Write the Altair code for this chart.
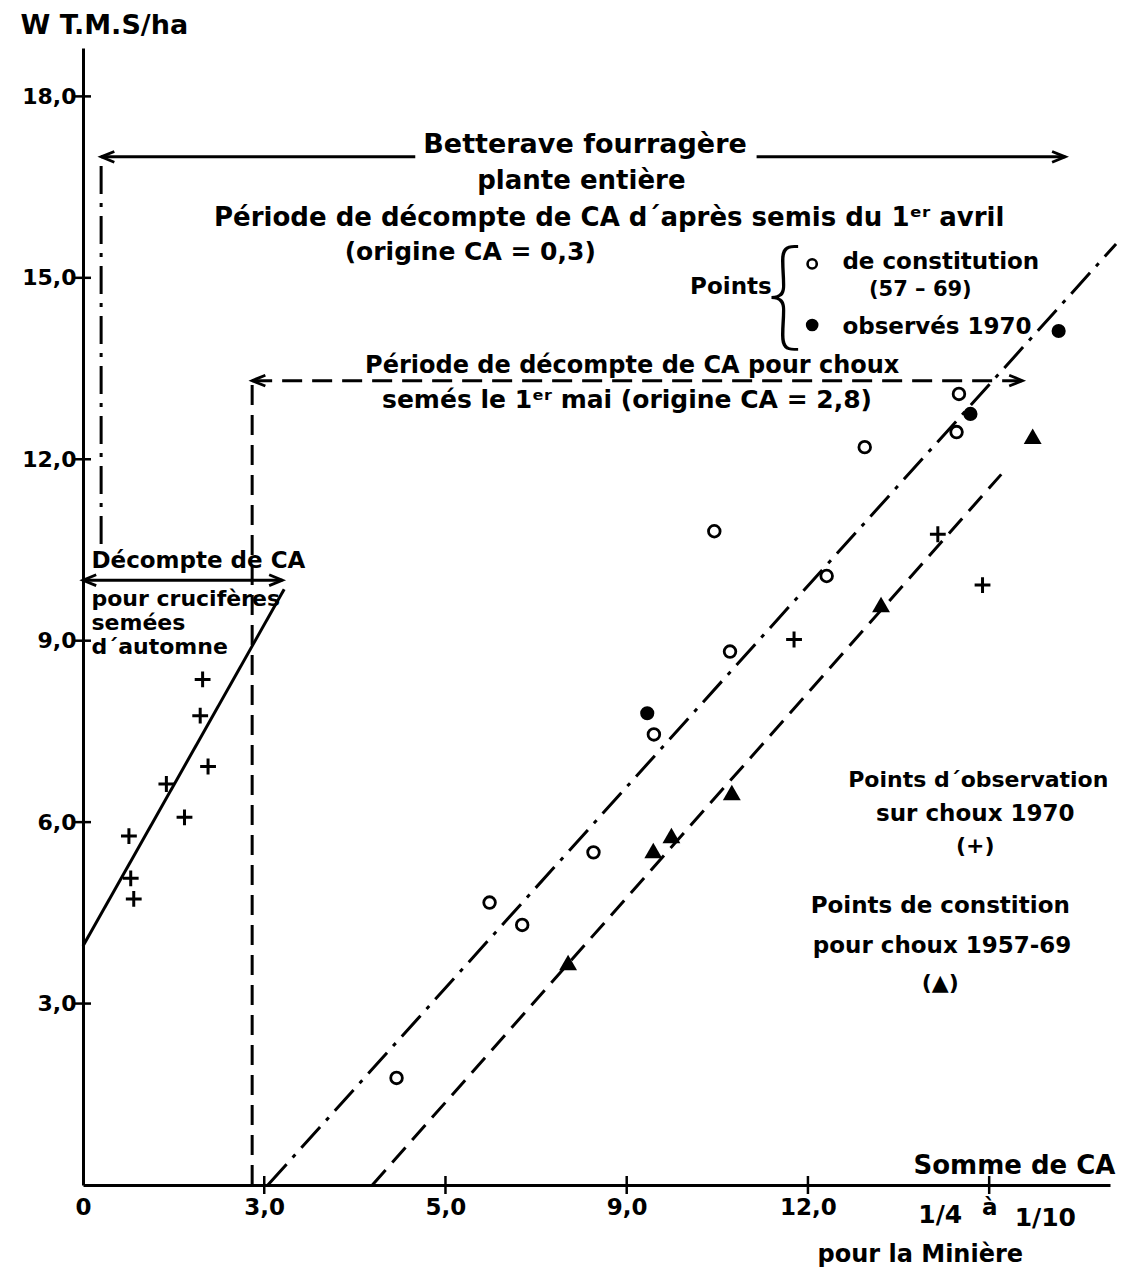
import altair as alt
import pandas as pd

FONT = "DejaVu Sans"
INK = "black"

# ---------------------------------------------------------------- data
# Observation points on cabbage, 1970 (+)
choux70_x = [0.76, 0.79, 0.84, 1.38, 1.68, 1.94, 1.98, 2.07, 11.77, 14.15, 14.89]
choux70_y = [5.77, 5.07, 4.73, 6.63, 6.08, 7.76, 8.36, 6.92, 9.02, 10.76, 9.92]

# Fodder beet, constitution points 1957-69 (open circles)
bett_const_x = [5.19, 6.73, 7.27, 8.45, 9.45, 10.45, 10.71, 12.31, 12.94, 14.46, 14.50]
bett_const_y = [1.77, 4.67, 4.30, 5.50, 7.45, 10.81, 8.82, 10.07, 12.20, 12.45, 13.08]

# Fodder beet, observed 1970 (filled circles)
bett_obs_x = [9.34, 14.69, 16.15]
bett_obs_y = [7.80, 12.75, 14.12]

# Cabbage, constitution points 1957-69 (triangles)
choux_const_x = [8.03, 9.44, 9.74, 10.74, 13.21, 15.72]
choux_const_y = [3.68, 5.53, 5.78, 6.49, 9.60, 12.38]

# Fitted lines (end points)
crucif_fit_x = [0.0, 3.33]
crucif_fit_y = [3.95, 9.85]
bett_fit_x = [3.06, 17.1]
bett_fit_y = [0.0, 15.56]
choux_fit_x = [4.79, 15.2]
choux_fit_y = [0.0, 11.75]

# Counting periods: origin of CA, level of the arrow, end of the arrow
bett_origin, bett_level, bett_end, bett_guide_low = 0.3, 17.0, 16.26, 10.6
bett_gap = [5.5, 11.15]          # arrow interrupted by its caption
choux_origin, choux_level, choux_end = 2.8, 13.3, 15.55
crucif_origin, crucif_level, crucif_end = 0.0, 10.0, 3.3

x_ticks = [0, 3, 6, 9, 12, 15]
y_ticks = [3, 6, 9, 12, 15, 18]

# ---------------------------------------------------------------- scales
XS = alt.Scale(domain=[0, 17], nice=False, zero=False)
YS = alt.Scale(domain=[0, 18.8], nice=False, zero=False)

x_axis = alt.Axis(
    values=x_ticks,
    labelExpr="datum.value == 0 ? '0' : datum.value == 6 ? '5,0' : "
              "datum.value == 15 ? 'à' : replace(format(datum.value, '.1f'), '.', ',')",
    ticks=False, grid=False, domainColor=INK, domainWidth=3,
    labelFont=FONT, labelFontSize=23, labelFontWeight="bold", labelColor=INK,
    labelPadding=11, labelOverlap=False, labelFlush=False,
    title="Somme de CA", titleFont=FONT, titleFontSize=26, titleFontWeight="bold",
    titleColor=INK, titleX=1032, titleY=-20, titleAlign="right", titleBaseline="middle",
)
y_axis = alt.Axis(
    values=y_ticks,
    labelExpr="replace(format(datum.value, '.1f'), '.', ',')",
    ticks=False, grid=False, domainColor=INK, domainWidth=3,
    labelFont=FONT, labelFontSize=22, labelFontWeight="bold", labelColor=INK,
    labelPadding=7, labelOverlap=False, labelFlush=False,
    title="W T.M.S/ha", titleFont=FONT, titleFontSize=27, titleFontWeight="bold",
    titleColor=INK, titleAngle=0, titleX=-63, titleY=-23, titleAlign="left",
    titleBaseline="middle",
)


def X(field="x"):
    return alt.X(f"{field}:Q", scale=XS, axis=x_axis)


def Y(field="y"):
    return alt.Y(f"{field}:Q", scale=YS, axis=y_axis)


# ---------------------------------------------------------------- segments
def segs(rows):
    out = []
    for name, xs, ys in rows:
        for i, (a, b) in enumerate(zip(xs, ys)):
            out.append({"seg": name, "i": i, "x": a, "y": b})
    return pd.DataFrame(out)


solid = segs([
    ("crucif_fit", crucif_fit_x, crucif_fit_y),
    ("bett_arrow_l", [bett_origin, bett_gap[0]], [bett_level, bett_level]),
    ("bett_arrow_r", [bett_gap[1], bett_end], [bett_level, bett_level]),
    ("crucif_arrow", [crucif_origin, crucif_end], [crucif_level, crucif_level]),
])
dashdot = segs([
    ("bett_fit", bett_fit_x, bett_fit_y),
    ("bett_guide", [bett_origin, bett_origin], [bett_level - 0.15, bett_guide_low]),
])
dashed = segs([
    ("choux_fit", choux_fit_x, choux_fit_y),
    ("choux_guide", [choux_origin, choux_origin], [0, choux_level]),
    ("choux_arrow", [choux_origin, choux_end], [choux_level, choux_level]),
])


def line_layer(df, dash=None):
    kw = dict(color=INK, strokeWidth=3, strokeCap="butt")
    if dash:
        kw["strokeDash"] = dash
    return alt.Chart(df).mark_line(**kw).encode(
        x=X(), y=Y(), detail="seg:N", order="i:O"
    )


lines = (
    line_layer(solid)
    + line_layer(dashdot, [28, 9, 4, 9])
    + line_layer(dashed, [20, 10])
)

# arrow heads (open chevrons with the tip on the point)
heads_left = pd.DataFrame({
    "x": [bett_origin, crucif_origin, choux_origin],
    "y": [bett_level, crucif_level, choux_level],
})
heads_right = pd.DataFrame({
    "x": [bett_end, crucif_end, choux_end],
    "y": [bett_level, crucif_level, choux_level],
})
LEFT = "M 2.2 -0.9 L 0 0 L 2.2 0.9"
RIGHT = "M -2.2 -0.9 L 0 0 L -2.2 0.9"
heads = (
    alt.Chart(heads_left).mark_point(shape=LEFT, filled=False, size=144,
                                     strokeWidth=2.8, color=INK, opacity=1)
    .encode(x=X(), y=Y())
    + alt.Chart(heads_right).mark_point(shape=RIGHT, filled=False, size=144,
                                        strokeWidth=2.8, color=INK, opacity=1)
    .encode(x=X(), y=Y())
)

# axis ticks crossing the axis lines
yt = pd.DataFrame({"x": [0] * len(y_ticks), "y": y_ticks})
xt = pd.DataFrame({"x": x_ticks[1:], "y": [0] * (len(x_ticks) - 1)})
ticks = (
    alt.Chart(yt).mark_tick(orient="horizontal", size=16, thickness=2.5, color=INK, opacity=1)
    .encode(x=X(), y=Y())
    + alt.Chart(xt).mark_tick(orient="vertical", size=18, thickness=2.5, color=INK, opacity=1)
    .encode(x=X(), y=Y())
)

# ---------------------------------------------------------------- points
PLUS = "M -1 0 L 1 0 M 0 -1 L 0 1"
pts_plus = pd.DataFrame({"x": choux70_x, "y": choux70_y})
pts_open = pd.DataFrame({"x": bett_const_x, "y": bett_const_y})
pts_fill = pd.DataFrame({"x": bett_obs_x, "y": bett_obs_y})
pts_tri = pd.DataFrame({"x": choux_const_x, "y": choux_const_y})

# legend keys beside the "Points {" caption
key_open = pd.DataFrame({"x": [12.07], "y": [15.23]})
key_fill = pd.DataFrame({"x": [12.07], "y": [14.22]})

points = (
    alt.Chart(pts_plus).mark_point(shape=PLUS, filled=False, size=250, strokeWidth=3,
                                   color=INK, opacity=1).encode(x=X(), y=Y())
    + alt.Chart(pts_open).mark_point(shape="circle", filled=False, size=135, strokeWidth=2.8,
                                     color=INK, opacity=1).encode(x=X(), y=Y())
    + alt.Chart(key_open).mark_point(shape="circle", filled=False, size=85, strokeWidth=2.6,
                                     color=INK, opacity=1).encode(x=X(), y=Y())
    + alt.Chart(pts_fill).mark_point(shape="circle", filled=True, size=200,
                                     color=INK, opacity=1).encode(x=X(), y=Y())
    + alt.Chart(key_fill).mark_point(shape="circle", filled=True, size=160,
                                     color=INK, opacity=1).encode(x=X(), y=Y())
    + alt.Chart(pts_tri).mark_point(shape="triangle-up", filled=True, size=320,
                                    color=INK, opacity=1).encode(x=X(), y=Y())
)

# ---------------------------------------------------------------- captions
captions = pd.DataFrame([
    # label, x, y, size, align
    ("Betterave fourragère", 8.31, 17.2, 27, "center"),
    ("plante entière", 8.25, 16.6, 26, "center"),
    ("Période de décompte de CA d´après semis du 1ᵉʳ avril", 8.71, 15.99, 26, "center"),
    ("(origine CA = 0,3)", 6.41, 15.43, 25, "center"),
    ("Points", 11.4, 14.85, 23, "right"),
    ("de constitution", 12.57, 15.26, 23, "left"),
    ("(57 – 69)", 13.86, 14.8, 21, "center"),
    ("observés 1970", 12.57, 14.19, 23, "left"),
    ("Période de décompte de CA pour choux", 4.67, 13.55, 24, "left"),
    ("semés le 1ᵉʳ mai (origine CA = 2,8)", 4.95, 12.98, 25, "left"),
    ("Décompte de CA", 0.14, 10.31, 23, "left"),
    ("pour crucifères", 0.14, 9.69, 22, "left"),
    ("semées", 0.14, 9.3, 22, "left"),
    ("d´automne", 0.14, 8.89, 22, "left"),
    ("Points d´observation", 14.82, 6.69, 22, "center"),
    ("sur choux 1970", 14.77, 6.14, 23, "center"),
    ("(+)", 14.77, 5.6, 22, "center"),
    ("Points de constition", 14.19, 4.62, 23, "center"),
    ("pour choux 1957-69", 14.22, 3.96, 23, "center"),
    ("(▲)", 14.19, 3.34, 22, "center"),
    ("1/4", 14.19, -0.5, 25, "center"),
    ("1/10", 15.93, -0.55, 25, "center"),
    ("pour la Minière", 13.86, -1.16, 24, "center"),
], columns=["label", "x", "y", "size", "align"])


def text_layer(align):
    return (
        alt.Chart(captions)
        .transform_filter(alt.datum.align == align)
        .mark_text(font=FONT, fontWeight="bold", color=INK, align=align, baseline="middle")
        .encode(x=X(), y=Y(), text="label:N", size=alt.Size("size:Q", scale=None, legend=None))
    )


brace = pd.DataFrame({"x": [11.6], "y": [14.66], "label": ["{"]})
brace_layer = (
    alt.Chart(brace)
    .mark_text(font="Noto Sans CJK JP", fontWeight=100, fontSize=112, color=INK,
               align="center", baseline="middle")
    .encode(x=X(), y=Y(), text="label:N")
)

texts = text_layer("left") + text_layer("center") + text_layer("right") + brace_layer

chart = (
    alt.layer(lines, heads, ticks, points, texts)
    .properties(
        width=1027,
        height=1137,
        autosize=alt.AutoSizeParams(type="none"),
        padding={"left": 83, "top": 48, "right": 28, "bottom": 87},
        background="white",
    )
    .configure_view(stroke=None)
)

chart.save("out.html", embed_options={"renderer": "svg", "actions": False})
